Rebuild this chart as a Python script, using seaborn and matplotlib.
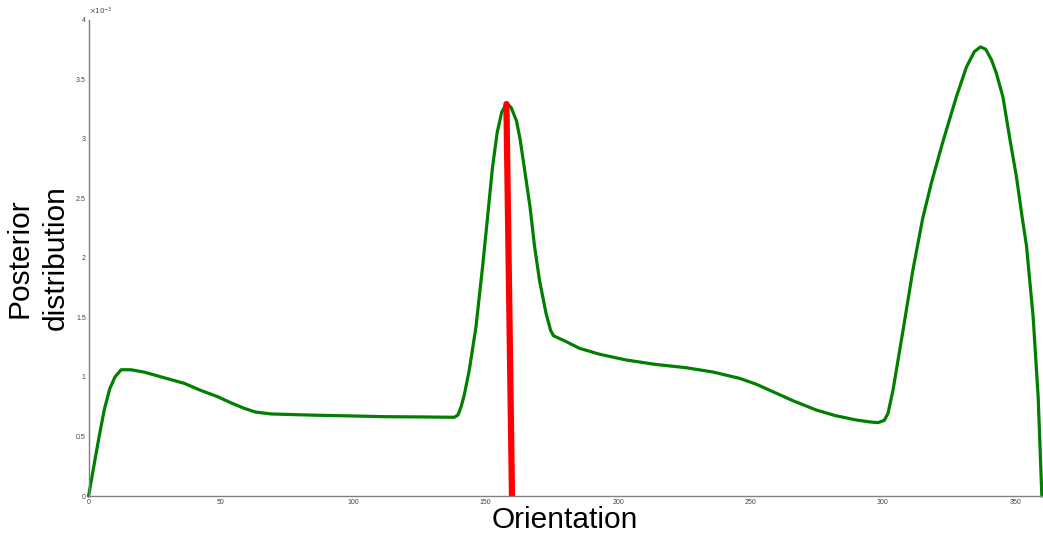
import matplotlib
matplotlib.use('Agg')
import matplotlib.pyplot as plt
import seaborn as sns
import pandas as pd
from matplotlib.ticker import FuncFormatter

# posterior curve (orientation in degrees, posterior in units of 1e-3)
orientation = [0, 2, 4, 6, 8, 10, 12.3, 16, 21, 29, 36.1, 42, 48.7, 54, 58.8, 63, 68.9, 78,
               86.5, 100, 111.7, 125, 138.1, 139.5, 140.7, 141.9, 143.8, 146.3, 148.8, 150.5,
               152.5, 154.3, 156, 157.9, 159.6, 161.6, 163, 164.6, 166.7, 168.4, 170.3, 172.8,
               174.5, 175.6, 180, 185.4, 193, 203, 214, 225.7, 236, 245.8, 252, 258.4, 266,
               274.8, 282, 289.9, 295, 298.1, 300.5, 301.9, 303.8, 307.6, 311.3, 315, 318.3,
               322.7, 327.7, 331.5, 334.5, 336.8, 338.8, 341, 342.8, 345.3, 347.9,
               350.4, 352.5, 354.2, 356.7, 358.6, 360]
posterior = [0, 0.25, 0.5, 0.73, 0.9, 1.0, 1.06, 1.06, 1.04, 0.99, 0.946, 0.89, 0.834, 0.78,
             0.736, 0.705, 0.689, 0.683, 0.678, 0.672, 0.666, 0.664, 0.661, 0.68, 0.75, 0.85,
             1.06, 1.42, 1.925, 2.3, 2.75, 3.05, 3.22, 3.30, 3.26, 3.15, 2.99, 2.75, 2.43,
             2.1, 1.81, 1.53, 1.39, 1.345, 1.30, 1.24, 1.19, 1.142, 1.105, 1.077, 1.04, 0.988,
             0.94, 0.876, 0.8, 0.722, 0.675, 0.638, 0.622, 0.616, 0.635, 0.694, 0.89, 1.394,
             1.897, 2.33, 2.63, 2.98, 3.35, 3.6, 3.73, 3.77, 3.75, 3.66, 3.55, 3.35,
             3.0, 2.68, 2.35, 2.1, 1.505, 0.834, 0]

# estimate marker (red line)
estimate_x = [157.8, 159.9]
estimate_y = [3.29, 0]

scale = 1e-3
curve = pd.DataFrame({'Orientation': orientation, 'Posterior': [p * scale for p in posterior]})
marker = pd.DataFrame({'Orientation': estimate_x, 'Posterior': [p * scale for p in estimate_y]})

sns.set_style('white')
plt.rcParams['font.family'] = ['Liberation Sans', 'DejaVu Sans']

fig = plt.figure(figsize=(10.43, 5.36), dpi=100)
ax = fig.add_axes([0.0849, 0.0746, 0.914, 0.889])

sns.lineplot(data=curve, x='Orientation', y='Posterior', color='#007f00', linewidth=2.3,
             sort=False, ax=ax, clip_on=False, solid_joinstyle='round')
sns.lineplot(data=marker, x='Orientation', y='Posterior', color='#ff0000', linewidth=4.5,
             sort=False, ax=ax)

ax.set_xlim(0, 360)
ax.set_ylim(0, 4e-3)
ax.set_xticks(range(0, 351, 50))
ax.set_yticks([i * 0.5e-3 for i in range(9)])
ax.yaxis.set_major_formatter(FuncFormatter(lambda v, pos: f'{v / scale:g}'))
ax.text(0.0, 1.005, r'$\times10^{-3}$', transform=ax.transAxes, fontsize=5,
        color='#444444', ha='left', va='bottom')

gray = '#808080'
for side in ['top', 'right']:
    ax.spines[side].set_visible(False)
for side in ['left', 'bottom']:
    ax.spines[side].set_color(gray)
    ax.spines[side].set_linewidth(1.0)
ax.tick_params(axis='both', direction='in', length=6, width=0.8, color=gray,
               labelsize=5, labelcolor='#444444', pad=2)

ax.set_xlabel('Orientation', fontsize=21.5, labelpad=0, color='black')
ax.set_ylabel('Posterior\ndistribution', fontsize=21.5, labelpad=4.5, linespacing=1.37,
              color='black')

plt.savefig('out.png', dpi=100)
